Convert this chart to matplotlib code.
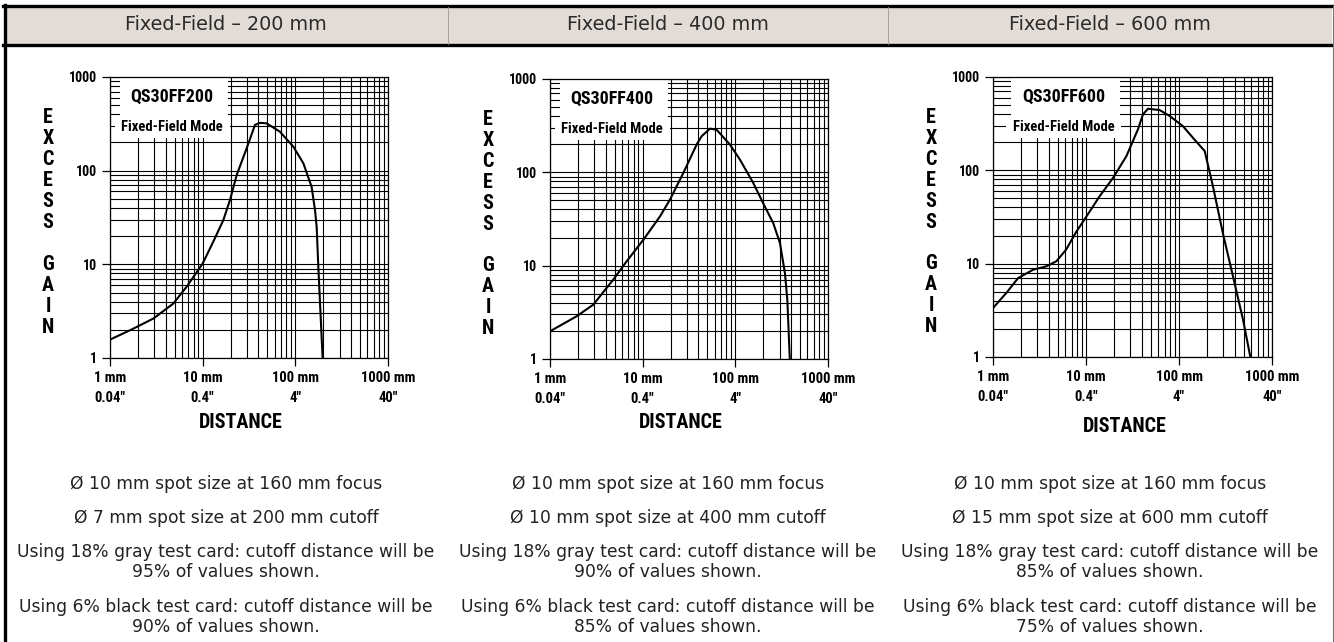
import matplotlib
matplotlib.use('Agg')
import matplotlib.pyplot as plt
from matplotlib.patches import Rectangle
from matplotlib.lines import Line2D

# Dados (distância em mm, ganho em excesso)
dist_200 = [1, 1.79, 2.94, 4.82, 6.7, 10, 13, 16.7, 19.7, 23.3, 29.8, 36.7, 41.6,
            49, 68, 95, 122, 150, 163, 170, 177, 197]
gain_200 = [1.57, 2.06, 2.64, 3.81, 5.75, 10.2, 17.4, 29.6, 48.5, 90, 173, 308, 324,
            320, 261, 181, 120, 67, 38, 25, 9.4, 1]

dist_400 = [1, 1.94, 2.93, 4.82, 6.7, 10.2, 15.4, 19.7, 27.4, 38.2, 43.2, 53.2, 62.8,
            87.6, 112, 156, 208, 256, 303, 343, 364, 387]
gain_400 = [1.98, 2.87, 3.82, 7.08, 11.1, 19, 33.8, 51, 98, 198, 243, 294, 286,
            198, 137, 77, 43, 28.7, 17.5, 8.3, 4.3, 1]

dist_600 = [1, 1.39, 1.86, 2.69, 3.74, 4.8, 6.1, 7.87, 10.1, 14, 19.5, 27.2, 36.2,
            41, 46.4, 62, 79.4, 110, 147, 189, 232, 297, 381, 488, 585]
gain_600 = [3.35, 4.85, 7.0, 8.6, 9.36, 10.6, 14.1, 22, 32, 52.7, 82.7, 142, 275,
            398, 457, 442, 382, 298, 213, 161, 67, 21, 7.3, 2.51, 1]

titulos = ['Fixed-Field \u2013 200 mm', 'Fixed-Field \u2013 400 mm', 'Fixed-Field \u2013 600 mm']
modelos = ['QS30FF200', 'QS30FF400', 'QS30FF600']
xticks = [1, 10, 100, 1000]
xtick_labels = ['1 mm\n0.04"', '10 mm\n0.4"', '100 mm\n4"', '1000 mm\n40"']
yticks = [1, 10, 100, 1000]
ytick_labels = ['1', '10', '100', '1000']

notas = [
    ['\u00d8 10 mm spot size at 160 mm focus', '\u00d8 7 mm spot size at 200 mm cutoff',
     'Using 18% gray test card: cutoff distance will be\n95% of values shown.',
     'Using 6% black test card: cutoff distance will be\n90% of values shown.'],
    ['\u00d8 10 mm spot size at 160 mm focus', '\u00d8 10 mm spot size at 400 mm cutoff',
     'Using 18% gray test card: cutoff distance will be\n90% of values shown.',
     'Using 6% black test card: cutoff distance will be\n85% of values shown.'],
    ['\u00d8 10 mm spot size at 160 mm focus', '\u00d8 15 mm spot size at 600 mm cutoff',
     'Using 18% gray test card: cutoff distance will be\n85% of values shown.',
     'Using 6% black test card: cutoff distance will be\n75% of values shown.'],
]

series = [(dist_200, gain_200), (dist_400, gain_400), (dist_600, gain_600)]

# layout (pixels)
W, H = 1334, 642
axes_px = [(110, 77, 388, 358), (550, 79, 828, 359), (993, 77, 1272, 357)]
dist_label_y = [422, 423, 426]
col_centers = [226, 668, 1110]
box_shift = [0.0, 0.0, 0.03]

narrow = ['Liberation Sans Narrow', 'Roboto Condensed', 'DejaVu Sans Condensed',
          'Roboto', 'Liberation Sans', 'DejaVu Sans']
nfont = dict(fontfamily=narrow, fontweight='bold', fontstretch='condensed')

fig = plt.figure(figsize=(W / 100, H / 100), dpi=100)
fig.patch.set_facecolor('white')


def fx(px):
    return px / W


def fy(py):
    return 1 - py / H


# cabeçalho
fig.patches.append(Rectangle((fx(5), fy(45)), fx(1332) - fx(5), fy(6) - fy(45),
                             transform=fig.transFigure, facecolor='#e3dcd6',
                             edgecolor='none', zorder=0))
fig.lines.append(Line2D([fx(3), fx(1333)], [fy(6), fy(6)], transform=fig.transFigure,
                        color='black', linewidth=2.4))
fig.lines.append(Line2D([fx(3), fx(1333)], [fy(45), fy(45)], transform=fig.transFigure,
                        color='black', linewidth=2.4))
fig.lines.append(Line2D([fx(4.5), fx(4.5)], [fy(5), 0], transform=fig.transFigure,
                        color='black', linewidth=2.4))
fig.lines.append(Line2D([fx(1332.5), fx(1332.5)], [fy(6), 0], transform=fig.transFigure,
                        color='#777777', linewidth=0.8))
for xd in [448, 888]:
    fig.lines.append(Line2D([fx(xd), fx(xd)], [fy(7), fy(44)], transform=fig.transFigure,
                            color='#999999', linewidth=0.6))

for i in range(3):
    l, t, r, b = axes_px[i]
    ax = fig.add_axes([fx(l), fy(b), fx(r) - fx(l), fy(t) - fy(b)])
    x, y = series[i]
    ax.plot(x, y, color='black', linewidth=1.5, zorder=3)
    ax.set_xscale('log')
    ax.set_yscale('log')
    ax.set_xlim(1, 1000)
    ax.set_ylim(1, 1000)
    ax.set_axisbelow(True)
    ax.grid(True, which='both', color='black', linewidth=0.8)
    ax.set_xticks(xticks)
    ax.set_xticklabels(xtick_labels, fontsize=10.5, linespacing=1.5, **nfont)
    ax.set_yticks(yticks)
    ax.set_yticklabels(ytick_labels, fontsize=10, **nfont)
    ax.tick_params(which='major', direction='out', length=6, width=0.9, pad=3.5)
    ax.tick_params(which='minor', length=0)
    for s in ax.spines.values():
        s.set_linewidth(0.9)

    # caixas brancas com os rótulos
    sh = box_shift[i]
    ax.add_patch(Rectangle((0.036 + sh, 0.858), 0.39, 0.142, transform=ax.transAxes,
                           facecolor='white', edgecolor='none', zorder=1))
    ax.add_patch(Rectangle((0.018 + sh, 0.783), 0.412, 0.073, transform=ax.transAxes,
                           facecolor='white', edgecolor='none', zorder=1))
    ax.text(0.223 + sh, 0.93, modelos[i], transform=ax.transAxes, ha='center',
            va='center', fontsize=13, zorder=4, **nfont)
    ax.text(0.223 + sh, 0.822, 'Fixed-Field Mode', transform=ax.transAxes, ha='center',
            va='center', fontsize=10.5, zorder=4, **nfont)

    # rótulos dos eixos
    fig.text(fx(l - 62), fy((t + b) / 2 + 5), 'E\nX\nC\nE\nS\nS\n\nG\nA\nI\nN',
             ha='center', va='center', fontsize=14.5, linespacing=1.13, **nfont)
    fig.text(fx((l + r) / 2 - 8), fy(dist_label_y[i]), 'DISTANCE', ha='center',
             va='center', fontsize=14.5, **nfont)

    # título da coluna
    fig.text(fx(col_centers[i]), fy(25), titulos[i], ha='center', va='center',
             fontsize=13.8, color='#2a2a2a')

    # notas
    cx = fx(col_centers[i])
    estilo = dict(ha='center', va='center', fontsize=12.3, color='#222222', linespacing=1.15)
    fig.text(cx, fy(484), notas[i][0], **estilo)
    fig.text(cx, fy(518), notas[i][1], **estilo)
    fig.text(cx, fy(562), notas[i][2], **estilo)
    fig.text(cx, fy(617), notas[i][3], **estilo)

fig.savefig('out.png', dpi=100)
